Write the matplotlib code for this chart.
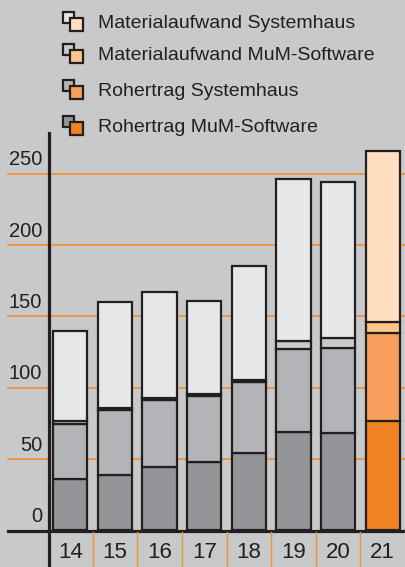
import matplotlib.pyplot as plt
import matplotlib.transforms as mtransforms
from matplotlib.patches import Rectangle
from matplotlib.lines import Line2D

# Data
years = ['14', '15', '16', '17', '18', '19', '20', '21']
rohertrag_mum = [36, 39, 44, 48, 54, 69, 68, 76.5]
rohertrag_sys = [38.5, 45, 47, 46, 50, 58, 59.5, 62]
material_mum = [2, 2, 1.5, 1.5, 1.5, 6, 7, 7.5]
material_sys = [63.5, 74, 74.5, 65, 80, 113, 110, 120]
y_ticks = [0, 50, 100, 150, 200, 250]

legend_labels = ['Materialaufwand Systemhaus', 'Materialaufwand MuM-Software',
                 'Rohertrag Systemhaus', 'Rohertrag MuM-Software']

# colours: grey for 2014-2020, orange for 2021
grey = ['#939598', '#b3b4b7', '#c9cacc', '#e6e7e8']
orange = ['#f28322', '#f8a05a', '#fdc78a', '#ffdfbf']
bg = '#c8c9cb'
grid_c = '#f0913a'
edge = '#231f20'

plt.rcParams['font.family'] = ['Liberation Sans', 'DejaVu Sans']

W, H = 405, 567
fig = plt.figure(figsize=(W / 100, H / 100), dpi=100, facecolor=bg)
# axes: x from 48px to 405px, y=0 at 530px, top at 133px
ymax = (530.2 - 133) / 1.426
ax = fig.add_axes([48 / W, (H - 530.2) / H, (W - 48) / W, (530.2 - 133) / H])
ax.set_facecolor(bg)
ax.set_xlim(-0.5, 7.5)
ax.set_ylim(0, ymax)
for s in ax.spines.values():
    s.set_visible(False)
ax.set_xticks([])
ax.set_yticks([])

xs = list(range(len(years)))
series = [rohertrag_mum, rohertrag_sys, material_mum, material_sys]
bottom = [0] * len(years)
for k, vals in enumerate(series):
    cols = [orange[k] if y == '21' else grey[k] for y in years]
    ax.bar(xs, vals, bottom=bottom, width=0.77, color=cols,
           edgecolor=edge, linewidth=1.6, zorder=3)
    bottom = [b + v for b, v in zip(bottom, vals)]

# orange gridlines reaching left under tick labels
trans = mtransforms.blended_transform_factory(fig.transFigure, ax.transData)
for v in y_ticks[1:]:
    ax.add_line(Line2D([8 / W, 1], [v, v], transform=trans, color=grid_c,
                       lw=1.3, zorder=1, clip_on=False))
for v in y_ticks:
    ax.text(-0.63, v + 3, str(v), ha='right', va='bottom', fontsize=14.5,
            color='#231f20')

# x axis line, left spine, category separators
fig.add_artist(Line2D([8 / W, 1], [(H - 531) / H] * 2, color=edge, lw=2.3))
fig.add_artist(Line2D([48.5 / W] * 2, [0, (H - 133) / H], color=edge, lw=2.3))
tx = mtransforms.blended_transform_factory(ax.transData, fig.transFigure)
for i in range(1, len(years)):
    fig.add_artist(Line2D([i - 0.5] * 2, [0, (H - 532) / H], transform=tx,
                          color=grid_c, lw=1.0))
for i, y in enumerate(years):
    fig.text(i, (H - 552) / H, y, transform=tx, ha='center', va='center',
             fontsize=16, color='#231f20')

# legend with overlapping squares
legend_back = [grey[3], grey[2], grey[1], grey[0]]
legend_front = [orange[3], orange[2], orange[1], orange[0]]
row_y = [23, 55, 91, 127]
for lab, bc, fc, ry in zip(legend_labels, legend_back, legend_front, row_y):
    fig.add_artist(Rectangle((63 / W, (H - ry) / H), 11 / W, 11 / H,
                             facecolor=bc, edgecolor=edge, lw=1.6,
                             transform=fig.transFigure))
    fig.add_artist(Rectangle((70 / W, (H - ry - 8) / H), 13 / W, 13 / H,
                             facecolor=fc, edgecolor=edge, lw=1.6,
                             transform=fig.transFigure))
    fig.text(98 / W, (H - ry) / H, lab, ha='left', va='center', fontsize=14,
             color='#231f20')

fig.savefig('out.png', dpi=100, facecolor=bg)
